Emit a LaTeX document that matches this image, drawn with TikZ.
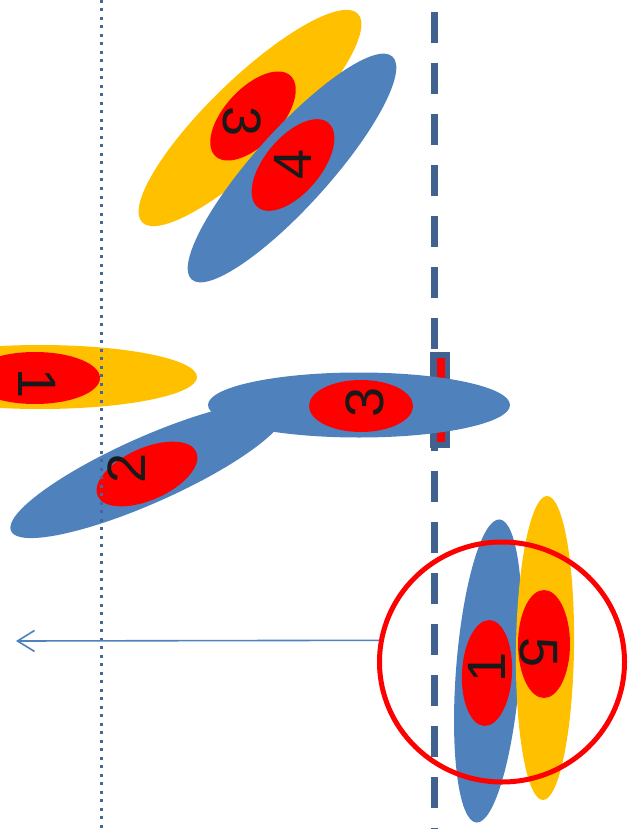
\documentclass[tikz,border=0pt]{standalone}
\usepackage{fontspec}
\newfontfamily\digitfont{Liberation Sans}
\usetikzlibrary{shapes.geometric,arrows.meta}
\definecolor{oyellow}{HTML}{FFC000}
\definecolor{oblue}{HTML}{4F81BD}
\definecolor{ored}{HTML}{FF0000}
\definecolor{dashc}{HTML}{41618F}
\definecolor{dotc}{HTML}{45679A}
\tikzset{
  blob/.style n args={2}{ellipse, inner sep=0pt, outer sep=0pt, minimum width=#1, minimum height=#2},
  digit/.style={inner sep=0pt, font=\digitfont\fontsize{54}{54}\selectfont, text=black!90},
  dashline/.style={dashc, line width=7pt, dash pattern=on 31pt off 20pt},
  dotline/.style={dotc, line width=3pt, dash pattern=on 3pt off 5.5pt},
  ring/.style={ellipse, draw=ored, line width=5pt, inner sep=0pt, minimum width=245pt, minimum height=240pt},
  leftarrow/.style={oblue, line width=1.6pt, -{Straight Barb[length=17pt,width=21pt]}}
}
\begin{document}
\begin{tikzpicture}[x=1pt,y=-1pt]
\path[use as bounding box] (0,0) rectangle (635,829);
\clip (0,0) rectangle (635,829);

% dashed vertical line with its boxed segment
\coordinate (dtop) at (434,12);
\coordinate (dbot) at (434,835);
\draw[dashline] (dtop) -- (dbot);
\fill[dashc] (430,352) rectangle (450,448);
\fill[ored] (437,358) rectangle (445,442);

% upper pair
\node[blob={300pt}{80pt}, fill=oyellow, rotate=44] (ya) at (250,118) {};
\node[blob={110pt}{56pt}, fill=ored, rotate=47] (ra) at (253,116) {};
\node[blob={300pt}{76pt}, fill=oblue, rotate=48] (bb) at (292,168) {};
\node[blob={110pt}{56pt}, fill=ored, rotate=50] (rb) at (293,165) {};

% middle group
\node[blob={314pt}{64pt}, fill=oyellow] (yc) at (40,377) {};
\node[blob={130pt}{52pt}, fill=ored] (rc) at (35,378) {};
\node[blob={300pt}{66pt}, fill=oblue, rotate=24] (bd) at (148,470) {};
\node[blob={302pt}{65pt}, fill=oblue] (be) at (359,405) {};
\node[blob={108pt}{52pt}, fill=ored, rotate=24] (rd) at (147,474) {};
\node[blob={104pt}{52pt}, fill=ored] (re) at (361,406) {};

% lower pair
\node[blob={304pt}{64pt}, fill=oblue, rotate=85.6] (bf) at (488,671) {};
\node[blob={106pt}{50pt}, fill=ored, rotate=87] (rf) at (487,673) {};
\node[blob={304pt}{58pt}, fill=oyellow, rotate=89.2] (yg) at (545,648) {};
\node[blob={108pt}{52pt}, fill=ored, rotate=90] (rg) at (544,644) {};

% dotted vertical line
\coordinate (ptop) at (101,0);
\coordinate (pbot) at (101,829);
\draw[dotline] (ptop) -- (pbot);

% labels
\node[digit, rotate=-90] (la) at (242,122) {3};
\node[digit, rotate=90] (lb) at (293,164) {4};
\node[digit, rotate=-90] (lc) at (37,384) {1};
\node[digit, rotate=90] (ld) at (127,468) {2};
\node[digit, rotate=90] (le) at (365,402) {3};
\node[digit, rotate=90] (lf) at (487,667) {1};
\node[digit, rotate=-90] (lg) at (539,653) {5};

% ring and arrow
\node[ring] (circ) at (502,662) {};
\coordinate (aend) at (16,641);
\draw[leftarrow] (circ.170) -- (aend);
\end{tikzpicture}
\end{document}
